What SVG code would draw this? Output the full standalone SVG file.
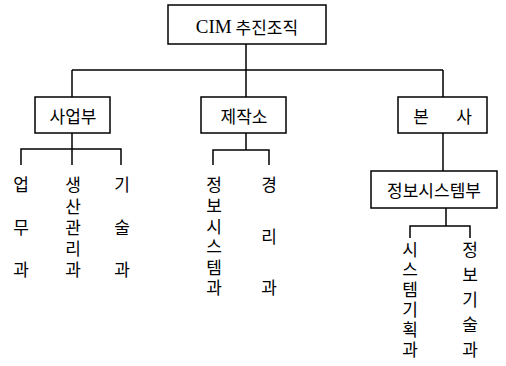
<svg xmlns="http://www.w3.org/2000/svg" width="506" height="366" viewBox="0 0 506 366">
<style>
.box{fill:#fff;stroke:#000;stroke-width:1.5}
.ln{fill:none;stroke:#000;stroke-width:1.5}
.t{font-family:"Noto Sans CJK KR","Liberation Serif",sans-serif;font-size:17px;fill:#000;text-anchor:middle;dominant-baseline:central}
.c{font-family:"Liberation Serif","Noto Sans CJK KR",serif;font-size:19px}
.v{font-family:"Noto Sans CJK KR",sans-serif;font-size:17px;fill:#000;writing-mode:vertical-rl;text-orientation:upright;text-anchor:start}
</style>
<rect width="506" height="366" fill="#fff"/>
<g id="connectors">
<path class="ln" d="M246 44V70M72 70H443M72 70V97M246 70V97M443 70V97"/>
<path class="ln" d="M72 133V149M21 165V149H121V165M72 149V165"/>
<path class="ln" d="M246 133V150M213 165V150H269V165"/>
<path class="ln" d="M443 133V171"/>
<path class="ln" d="M446 208V226M410 238V226H470V238"/>
</g>
<g id="cim"><rect class="box" x="168" y="5" width="158" height="39"/><text class="t" x="247" y="26"><tspan class="c">CIM</tspan> 추진조직</text></g>
<g id="saeop"><rect class="box" x="35" y="97" width="75" height="36"/><text class="t" x="73" y="115">사업부</text></g>
<g id="jejak"><rect class="box" x="201" y="97" width="85" height="36"/><text class="t" x="244" y="115">제작소</text></g>
<g id="bonsa"><rect class="box" x="398" y="97" width="89" height="36"/><text class="t" y="115"><tspan x="421">본</tspan><tspan x="464">사</tspan></text></g>
<g id="jeongbo"><rect class="box" x="371" y="171" width="126" height="37"/><text class="t" x="434" y="189">정보시스템부</text></g>
<g id="eopmu"><text class="v" x="21" y="176.5" letter-spacing="25.5">업무과</text></g>
<g id="saengsan"><text class="v" x="73" y="176.5" letter-spacing="4.25">생산관리과</text></g>
<g id="gisul"><text class="v" x="122" y="176.5" letter-spacing="25.5">기술과</text></g>
<g id="jsystem"><text class="v" x="214" y="176.5" letter-spacing="3.6">정보시스템과</text></g>
<g id="gyeongri"><text class="v" x="269" y="176.5" letter-spacing="34.5">경리과</text></g>
<g id="sgihoek"><text class="v" x="410" y="241.5" letter-spacing="3">시스템기획과</text></g>
<g id="jgisul"><text class="v" x="470" y="241.5" letter-spacing="8">정보기술과</text></g>
</svg>
